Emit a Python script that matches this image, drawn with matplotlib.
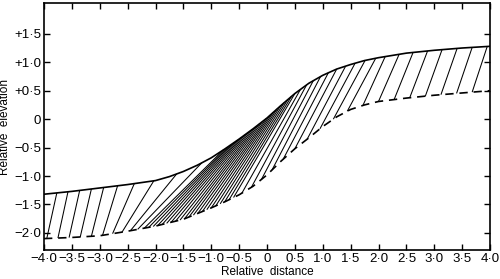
import matplotlib
matplotlib.use("Agg")
import matplotlib.pyplot as plt
import numpy as np

# Upper (solid) boundary
upper_x = [-4.0, -3.5, -3.0, -2.5, -2.0, -1.75, -1.5, -1.25, -1.0, -0.75, -0.5, -0.25,
           0.0, 0.25, 0.5, 0.75, 1.0, 1.25, 1.5, 1.75, 2.0, 2.5, 3.0, 3.5, 4.0]
upper_y = [-1.32, -1.27, -1.21, -1.15, -1.08, -1.01, -0.92, -0.81, -0.68, -0.52, -0.35, -0.17,
           0.02, 0.24, 0.45, 0.63, 0.77, 0.88, 0.96, 1.03, 1.08, 1.16, 1.21, 1.25, 1.28]

# Lower (dashed) boundary
lower_x = [-4.0, -3.5, -3.0, -2.5, -2.0, -1.5, -1.25, -1.0, -0.75, -0.5, -0.25,
           0.0, 0.25, 0.5, 0.75, 1.0, 1.25, 1.5, 1.75, 2.0, 2.5, 3.0, 3.5, 4.0]
lower_y = [-2.10, -2.08, -2.05, -1.97, -1.88, -1.76, -1.66, -1.56, -1.45, -1.33, -1.18,
           -0.98, -0.74, -0.52, -0.33, -0.13, 0.04, 0.17, 0.25, 0.31, 0.37, 0.42, 0.46, 0.50]

# Hatch lines: x of the foot on the lower curve and of the head on the upper curve
hatch_lower_x = [-3.95, -3.75, -3.55, -3.35, -3.15, -2.95, -2.77, -2.60, -2.45, -2.32,
                 -2.20, -2.12, -2.04, -1.96, -1.88, -1.80, -1.72, -1.64, -1.56, -1.48,
                 -1.40, -1.32, -1.24, -1.16, -1.08, -1.00, -0.92, -0.84, -0.76, -0.68, -0.60,
                 -0.45, -0.28, -0.10, 0.09, 0.29, 0.50, 0.72, 0.95, 1.19, 1.44,
                 1.72, 2.0, 2.28, 2.56, 2.84, 3.12, 3.40, 3.68]
hatch_upper_x = [-3.77, -3.57, -3.36, -3.15, -2.93, -2.68, -2.38, -2.03, -1.62, -1.17,
                 -0.780, -0.716, -0.652, -0.588, -0.524, -0.460, -0.396, -0.332, -0.268, -0.204,
                 -0.140, -0.076, -0.012, 0.052, 0.116, 0.180, 0.244, 0.308, 0.372, 0.436, 0.500,
                 0.60, 0.71, 0.83, 0.96, 1.10, 1.25, 1.41, 1.58, 1.76, 1.95,
                 2.12, 2.37, 2.62, 2.88, 3.14, 3.41, 3.68, 3.95]

x_ticks = [-4.0, -3.5, -3.0, -2.5, -2.0, -1.5, -1.0, -0.5, 0.0, 0.5, 1.0, 1.5, 2.0, 2.5, 3.0, 3.5, 4.0]
x_tick_labels = ["\u22124\u00b70", "\u22123\u00b75", "\u22123\u00b70", "\u22122\u00b75", "\u22122\u00b70",
                 "\u22121\u00b75", "\u22121\u00b70", "\u22120\u00b75", "0", "0\u00b75", "1\u00b70",
                 "1\u00b75", "2\u00b70", "2\u00b75", "3\u00b70", "3\u00b75", "4\u00b70"]
y_ticks = [1.5, 1.0, 0.5, 0.0, -0.5, -1.0, -1.5, -2.0]
y_tick_labels = ["+1\u00b75", "+1\u00b70", "+0\u00b75", "0", "\u22120\u00b75", "\u22121\u00b70",
                 "\u22121\u00b75", "\u22122\u00b70"]

plt.rcParams['font.family'] = ['Liberation Sans', 'DejaVu Sans']

fig = plt.figure(figsize=(5.0, 2.79), dpi=100)
ax = fig.add_axes([0.088, 0.104, 0.892, 0.885])

# hatch lines
hl_y = np.interp(hatch_lower_x, lower_x, lower_y)
hu_y = np.interp(hatch_upper_x, upper_x, upper_y)
for xl, yl, xu, yu in zip(hatch_lower_x, hl_y, hatch_upper_x, hu_y):
    ax.plot([xl, xu], [yl, yu], color='black', lw=0.75, solid_capstyle='butt')

ax.plot(upper_x, upper_y, color='black', lw=1.2)
ax.plot(lower_x, lower_y, color='black', lw=1.2, linestyle=(0, (5, 3.5)))

ax.set_xlim(-4.0, 4.0)
ax.set_ylim(-2.30, 2.04)
ax.set_xticks(x_ticks)
ax.set_xticklabels(x_tick_labels)
ax.set_yticks(y_ticks)
ax.set_yticklabels(y_tick_labels)
ax.tick_params(direction='in', length=4, width=1, top=True, right=True,
               labelsize=9.5, pad=2)
for s in ax.spines.values():
    s.set_linewidth(1.2)

ax.set_xlabel("Relative  distance", fontsize=8.5, labelpad=1)
ax.set_ylabel("Relative  elevation", fontsize=8.5)
ax.yaxis.set_label_coords(-0.074, 0.5)

fig.savefig("out.png", dpi=100)
